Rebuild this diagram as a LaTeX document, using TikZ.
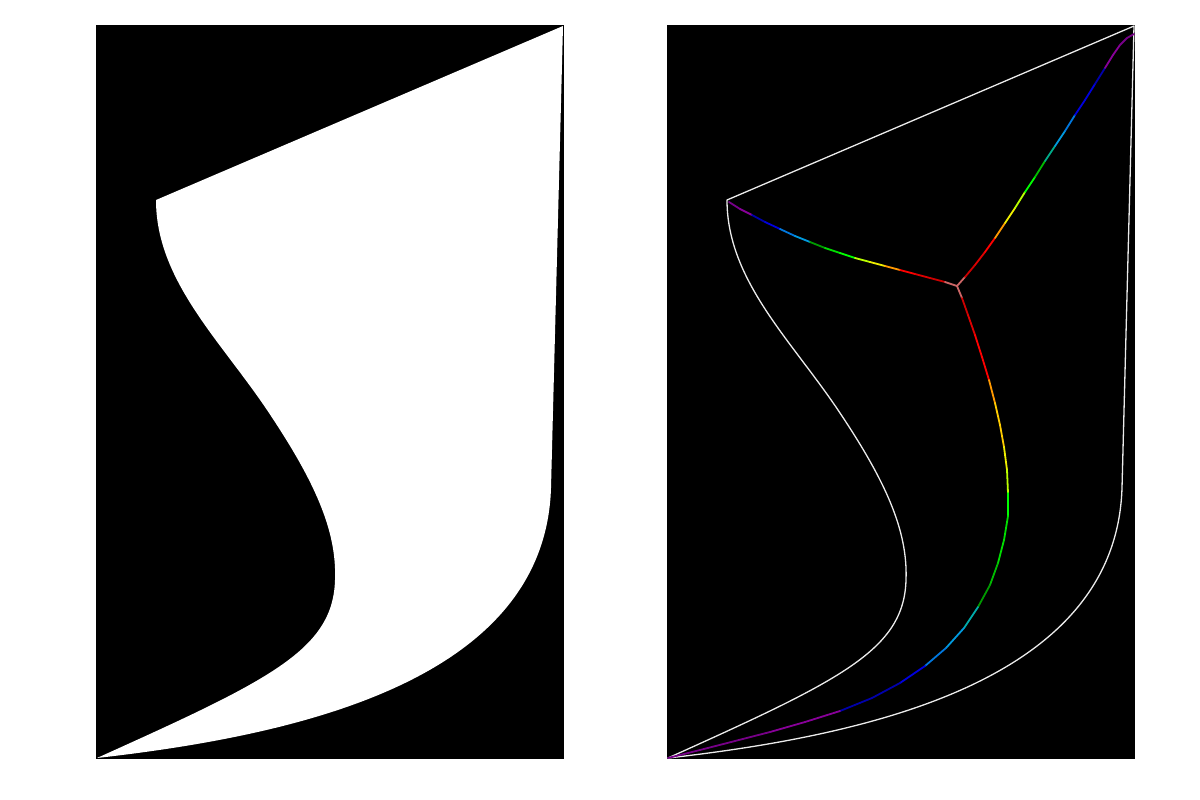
\documentclass[tikz,border=0pt]{standalone}
\usetikzlibrary{calc}
\definecolor{ns1}{rgb}{0.4667,0,0.5333}
\definecolor{ns2}{rgb}{0.5333,0,0.6}
\definecolor{ns3}{rgb}{0,0,0.6667}
\definecolor{ns4}{rgb}{0,0,0.8667}
\definecolor{ns5}{rgb}{0,0.4667,0.8667}
\definecolor{ns6}{rgb}{0,0.6,0.8667}
\definecolor{ns7}{rgb}{0,0.6667,0.6667}
\definecolor{ns8}{rgb}{0,0.6667,0.5333}
\definecolor{ns9}{rgb}{0,0.6,0}
\definecolor{ns10}{rgb}{0,0.7333,0}
\definecolor{ns11}{rgb}{0,0.8667,0}
\definecolor{ns12}{rgb}{0,1,0}
\definecolor{ns13}{rgb}{0.7333,1,0}
\definecolor{ns14}{rgb}{0.9333,0.9333,0}
\definecolor{ns15}{rgb}{1,0.8,0}
\definecolor{ns16}{rgb}{1,0.6,0}
\definecolor{ns17}{rgb}{1,0,0}
\definecolor{ns18}{rgb}{0.8667,0,0}
\definecolor{ns19}{rgb}{0.8,0,0}
\definecolor{ns20}{rgb}{0.8,0.8,0.8}
\newcommand{\blobpath}{(97,758) .. controls (300,735) and (545,680) .. (551,488) -- (563,26) -- (156,200) .. controls (156,280) and (220,340) .. (267,410) .. controls (314,480) and (337,530) .. (335,580) .. controls (333,650) and (270,680) .. (97,758) -- cycle}
\tikzset{
  panel/.style={fill=black},
  outline/.style={draw=white!92!black, line width=1.3pt, line join=round},
  skel/.style={line width=1.8pt, line cap=round}
}
\begin{document}
\begin{tikzpicture}[x=1pt,y=-1pt]
\useasboundingbox (0,0) rectangle (1200,800);
\fill[white] (0,0) rectangle (1200,800);
% left panel
\fill[panel] (96,25) rectangle (564,759);
\fill[white] \blobpath;
% right panel
\fill[panel] (667,25) rectangle (1135,759);
\begin{scope}[shift={(571,0)}]
\draw[outline] \blobpath;
\end{scope}
% skeleton: upper-left branch
\foreach \x/\y/\c [remember=\x as \px (initially 729), remember=\y as \py (initially 202)] in
 {740/209/ns1, 752/215/ns2, 765/222/ns3, 780/229/ns4, 795/236/ns5, 810/242/ns6,
  825/248/ns9, 840/253/ns11, 855/258/ns12, 870/262/ns13, 885/266/ns14, 900/270/ns16,
  915/274/ns17, 930/278/ns18, 945/282/ns19, 957/286/ns19!50!ns20}
 {\draw[skel,color=\c] (\px,\py) -- (\x,\y);}
% upper-right branch
\foreach \x/\y/\c [remember=\x as \px (initially 957), remember=\y as \py (initially 286)] in
 {965/277/ns19!50!ns20, 975/265/ns19, 985/252/ns18, 995/238/ns17, 1005/223/ns16,
  1015/208/ns14, 1025/192/ns13, 1035/177/ns12, 1045/161/ns10, 1055/146/ns8,
  1065/131/ns6, 1075/115/ns5, 1085/100/ns4, 1095/84/ns4, 1105/68/ns3,
  1113/55/ns2, 1120/45/ns2, 1127/38/ns1, 1134/34/ns1}
 {\draw[skel,color=\c] (\px,\py) -- (\x,\y);}
% lower branch
\foreach \x/\y/\c [remember=\x as \px (initially 957), remember=\y as \py (initially 286)] in
 {962/298/ns19!50!ns20, 968/315/ns19, 975/335/ns18, 982/357/ns17, 989/380/ns17,
  995/403/ns16, 1000/425/ns15, 1004/447/ns15, 1007/470/ns14, 1008/493/ns13,
  1008/516/ns12, 1004/540/ns11, 998/563/ns11, 990/585/ns10, 978/607/ns9,
  964/628/ns7, 946/648/ns6, 925/666/ns5, 900/683/ns4, 872/698/ns3, 840/711/ns3,
  805/722/ns2, 770/732/ns2, 735/741/ns1, 700/750/ns1, 668/758/ns1}
 {\draw[skel,color=\c] (\px,\py) -- (\x,\y);}
\end{tikzpicture}
\end{document}
